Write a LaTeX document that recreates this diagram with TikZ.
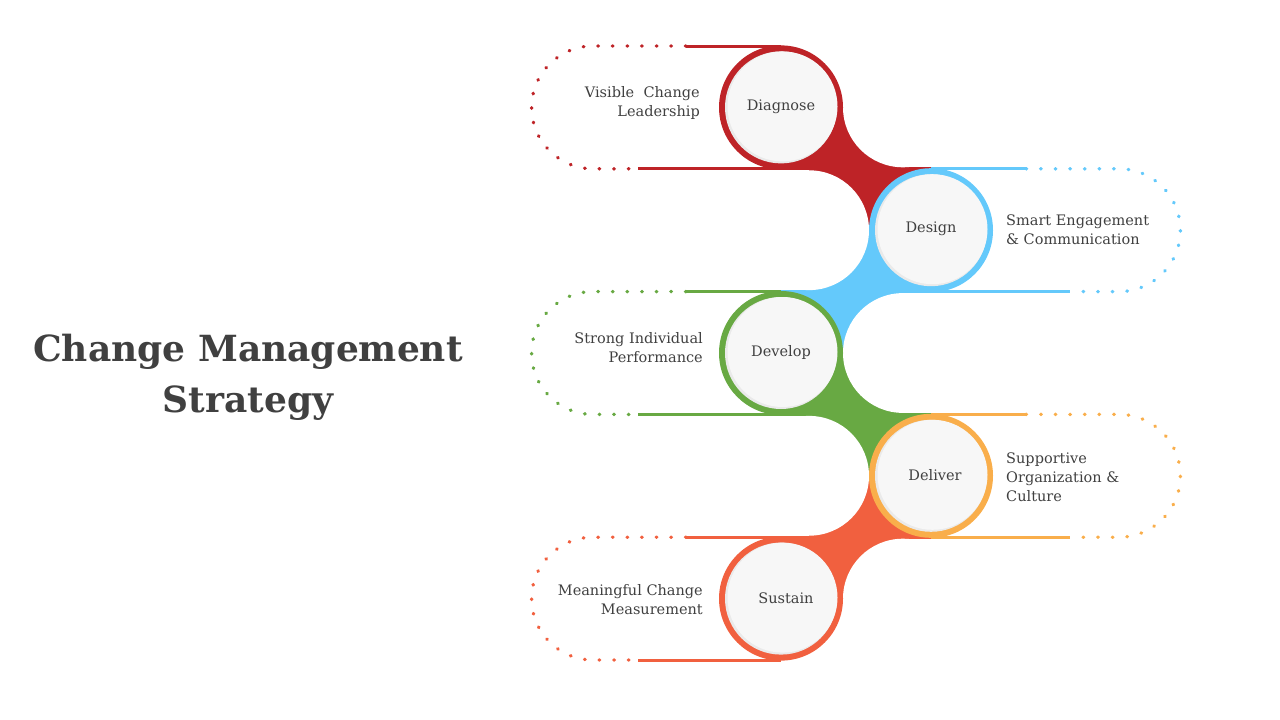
\documentclass[tikz,border=0pt]{standalone}
\usepackage{fontspec}
\setmainfont{DejaVu Serif}
\definecolor{cRed}{HTML}{BE2327}
\definecolor{cBlue}{HTML}{64C9FB}
\definecolor{cGreen}{HTML}{68A943}
\definecolor{cOrange}{HTML}{F9AE4B}
\definecolor{cCoral}{HTML}{F1603F}
\definecolor{txt}{HTML}{404040}
\definecolor{discface}{HTML}{F7F7F7}
\definecolor{discshadow}{HTML}{EAEAEA}
\begin{document}
\begin{tikzpicture}[x=1pt,y=-1pt,
  ringdisc/.style={circle,fill=#1,minimum size=124pt,inner sep=0pt},
  shadowdisc/.style={circle,fill=discshadow,minimum size=112pt,inner sep=0pt},
  facedisc/.style={circle,fill=discface,minimum size=110pt,inner sep=0pt},
  steptext/.style={font=\fontsize{14.5}{17}\selectfont,text=txt,inner sep=0pt},
  solidline/.style={draw=#1,line width=3pt},
  dotline/.style={draw=#1,line width=3.4pt,line cap=round,dash pattern=on 0.6pt off 14pt},
  leftlabel/.style={font=\fontsize{14.5}{19}\selectfont,text=txt,inner sep=0pt,align=right,anchor=east},
  rightlabel/.style={font=\fontsize{14.5}{19}\selectfont,text=txt,inner sep=0pt,align=left,anchor=west},
]
\useasboundingbox (0,0) rectangle (1280,720);

% ---- connector ribbons
\fill[cRed]   (781,107.4) rectangle (931,230.2);
\fill[cBlue]  (781,230.2) rectangle (931,353);
\fill[cGreen] (781,353)   rectangle (931,475.8);
\fill[cCoral] (781,475.8) rectangle (931,598.6);

% ---- white carving pills
\fill[white] (902.9,107.4) circle[radius=59.9];
\fill[white] (902.9,47.5) rectangle (960,167.3);
\fill[white] (809.1,230.2) circle[radius=59.9];
\fill[white] (750,170.3) rectangle (809.1,290.1);
\fill[white] (902.9,353) circle[radius=59.9];
\fill[white] (902.9,293.1) rectangle (960,412.9);
\fill[white] (809.1,475.8) circle[radius=59.9];
\fill[white] (750,415.9) rectangle (809.1,535.7);
\fill[white] (902.9,598.6) circle[radius=59.9];
\fill[white] (902.9,538.7) rectangle (960,658.5);

% ---- band lines
% row 1 (red, left)
\draw[solidline=cRed] (686,46) -- (781,46);
\draw[solidline=cRed] (638,168.8) -- (781,168.8);
\draw[dotline=cRed] (686,46) -- (593,46) arc[start angle=270,end angle=90,radius=61.4] -- (638,168.8);
% row 2 (blue, right)
\draw[solidline=cBlue] (931,168.8) -- (1026,168.8);
\draw[solidline=cBlue] (931,291.6) -- (1070,291.6);
\draw[dotline=cBlue] (1026,168.8) -- (1119,168.8) arc[start angle=270,end angle=450,radius=61.4] -- (1070,291.6);
% row 3 (green, left)
\draw[solidline=cGreen] (686,291.6) -- (781,291.6);
\draw[solidline=cGreen] (638,414.4) -- (781,414.4);
\draw[dotline=cGreen] (686,291.6) -- (593,291.6) arc[start angle=270,end angle=90,radius=61.4] -- (638,414.4);
% row 4 (orange, right)
\draw[solidline=cOrange] (931,414.4) -- (1026,414.4);
\draw[solidline=cOrange] (931,537.2) -- (1070,537.2);
\draw[dotline=cOrange] (1026,414.4) -- (1119,414.4) arc[start angle=270,end angle=450,radius=61.4] -- (1070,537.2);
% row 5 (coral, left)
\draw[solidline=cCoral] (686,537.2) -- (781,537.2);
\draw[solidline=cCoral] (638,660) -- (781,660);
\draw[dotline=cCoral] (686,537.2) -- (593,537.2) arc[start angle=270,end angle=90,radius=61.4] -- (638,660);

% ---- circles
\node[ringdisc=cRed]    (r1) at (781,107.4) {};
\node[ringdisc=cBlue]   (r2) at (931,230.2) {};
\node[ringdisc=cGreen]  (r3) at (781,353) {};
\node[ringdisc=cOrange] (r4) at (931,475.8) {};
\node[ringdisc=cCoral]  (r5) at (781,598.6) {};
\foreach \n/\x/\y in {1/781/107.4,2/931/230.2,3/781/353,4/931/475.8,5/781/598.6}{
  \node[shadowdisc] (s\n) at (\x,\y) {};
  \node[facedisc] (f\n) at ([shift={(1.5,-1)}]s\n.center) {};
}
\node[steptext] (t1) at (781,107) {Diagnose};
\node[steptext] (t2) at (931,228.5) {Design};
\node[steptext] (t3) at (781,352) {Develop};
\node[steptext] (t4) at (935,475) {Deliver};
\node[steptext] (t5) at (786,598) {Sustain};

% ---- side labels
\node[leftlabel]  (l1) at (700,102.5) {Visible~ Change\\Leadership};
\node[rightlabel] (l2) at (1006,229.5) {Smart Engagement\\\& Communication};
\node[leftlabel]  (l3) at (703,347.5) {Strong Individual\\Performance};
\node[rightlabel] (l4) at (1006,477) {Supportive\\Organization \&\\Culture};
\node[leftlabel]  (l5) at (703,599.5) {Meaningful Change\\Measurement};

% ---- title
\node[font=\bfseries\fontsize{36}{51}\selectfont,text=txt,align=center,inner sep=0pt] (title) at (248,377) {Change Management\\Strategy};
\end{tikzpicture}
\end{document}
